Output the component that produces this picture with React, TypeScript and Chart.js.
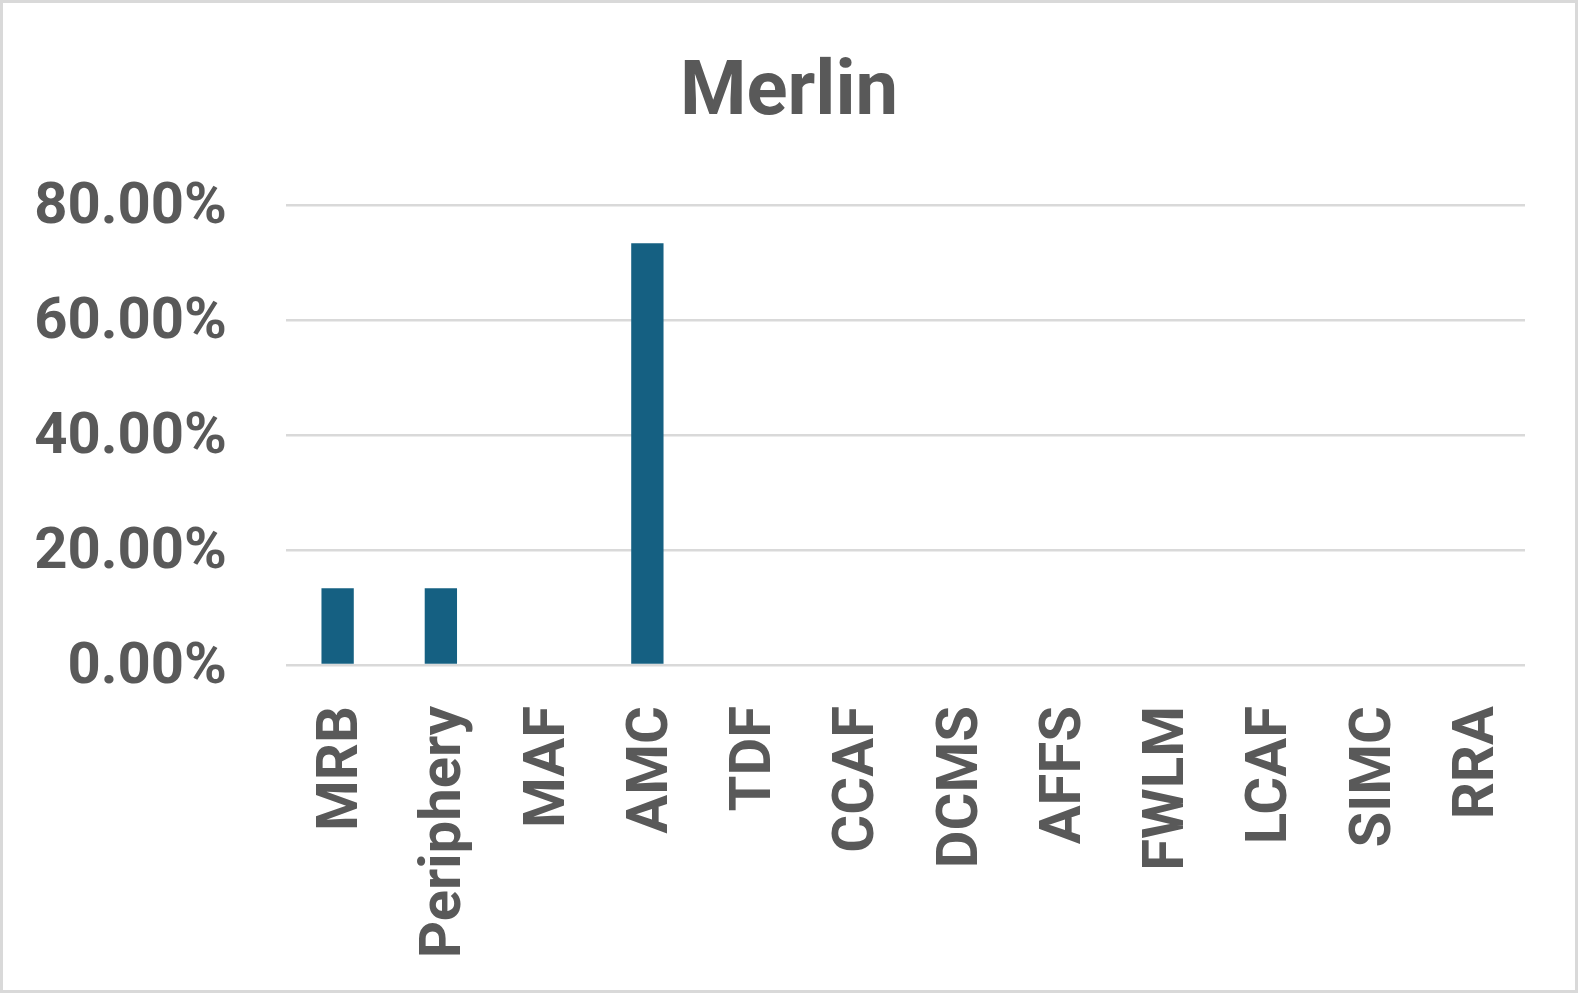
import React, { useEffect, useRef } from "react";
import { Chart, registerables } from "chart.js";

Chart.register(...registerables);

const categories = ["MRB", "Periphery", "MAF", "AMC", "TDF", "CCAF", "DCMS", "AFFS", "FWLM", "LCAF", "SIMC", "RRA"];
const values = [13.33, 13.33, 0, 73.33, 0, 0, 0, 0, 0, 0, 0, 0];
const title = "Merlin";
const yMin = 0;
const yMax = 80;
const yStep = 20;

const W = 1578;
const H = 993;
const TEXT = "#595959";
const GRID = "#d9d9d9";
const BAR = "#156082";
const FONT = "Roboto";

const frameAndTitlePlugin = {
  id: "frameAndTitle",
  afterDraw(chart: any) {
    const ctx = chart.ctx;
    ctx.save();
    ctx.strokeStyle = GRID;
    ctx.lineWidth = 3;
    ctx.strokeRect(1.5, 1.5, W - 3, H - 3);
    ctx.fillStyle = TEXT;
    ctx.font = `bold 76px ${FONT}`;
    ctx.textAlign = "center";
    ctx.textBaseline = "alphabetic";
    ctx.fillText(title, W / 2, 114);
    ctx.restore();
  },
};

export default function App() {
  const ref = useRef<HTMLCanvasElement | null>(null);
  useEffect(() => {
    if (!ref.current) return;
    const chart = new Chart(ref.current, {
      type: "bar",
      data: {
        labels: categories,
        datasets: [
          {
            data: values,
            backgroundColor: BAR,
            borderWidth: 0,
            barPercentage: 0.313,
            categoryPercentage: 1,
          },
        ],
      },
      plugins: [frameAndTitlePlugin],
      options: {
        responsive: false,
        animation: false,
        devicePixelRatio: 1,
        layout: { padding: { left: 0, right: 49, top: 205, bottom: 0 } },
        plugins: {
          legend: { display: false },
          tooltip: { enabled: false },
          title: { display: false },
        },
        scales: {
          x: {
            grid: { display: false },
            border: { display: false },
            ticks: {
              color: TEXT,
              font: { family: FONT, size: 58, weight: "bold" },
              minRotation: 90,
              maxRotation: 90,
              padding: 33,
              labelOffset: 5,
              autoSkip: false,
            },
            afterFit(scale: any) {
              scale.height = 328;
            },
          },
          y: {
            min: yMin,
            max: yMax,
            grid: { color: GRID, lineWidth: 2.5, drawTicks: false },
            border: { display: false },
            ticks: {
              stepSize: yStep,
              color: TEXT,
              font: { family: FONT, size: 58, weight: "bold" },
              padding: 59,
              labelOffset: 3,
              callback: (v: any) => Number(v).toFixed(2) + "%",
            },
            afterFit(scale: any) {
              scale.width = 286;
            },
          },
        },
      },
    } as any);
    return () => chart.destroy();
  }, []);
  return (
    <div style={{ position: "fixed", left: 0, top: 0, width: W, height: H, background: "#fff" }}>
      <canvas ref={ref} width={W} height={H} style={{ width: W, height: H, display: "block" }} />
    </div>
  );
}
